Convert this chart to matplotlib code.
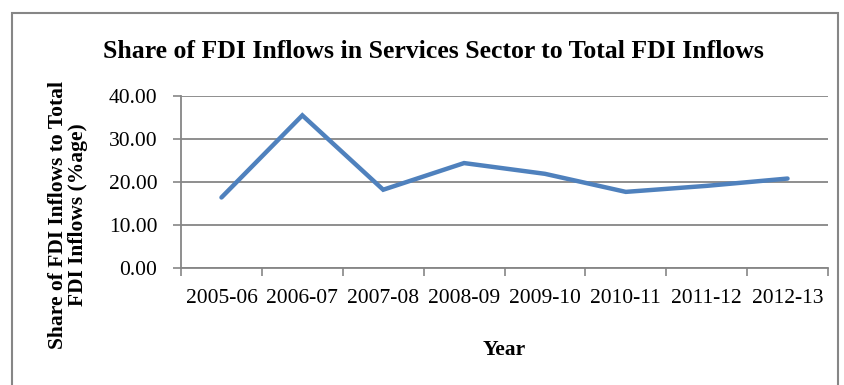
import matplotlib.pyplot as plt
from matplotlib.patches import Rectangle
from matplotlib.ticker import FixedLocator

years = ["2005-06", "2006-07", "2007-08", "2008-09", "2009-10", "2010-11", "2011-12", "2012-13"]
share = [16.4, 35.5, 18.2, 24.4, 21.9, 17.7, 19.1, 20.8]

plt.rcParams["font.family"] = ["Liberation Serif", "DejaVu Serif"]
grey = "#868686"
fs = 15.5

fig = plt.figure(figsize=(8.44, 3.85), dpi=100)
ax = fig.add_axes([0.2145, 0.304, 0.7665, 0.4466])

x = list(range(len(years)))
ax.plot(x, share, color="#4F81BD", lw=3.2, solid_capstyle="round", solid_joinstyle="miter")

ax.set_xlim(-0.5, len(years) - 0.5)
ax.set_ylim(0, 40)
ax.set_yticks([0, 10, 20, 30, 40])
ax.set_yticklabels([f"{v:.2f}" for v in [0, 10, 20, 30, 40]], fontsize=fs)
ax.xaxis.set_major_locator(FixedLocator([i - 0.5 for i in range(len(years) + 1)]))
ax.xaxis.set_minor_locator(FixedLocator(x))
ax.set_xticklabels([])
ax.set_xticklabels(years, minor=True, fontsize=fs)
ax.tick_params(axis="x", which="major", length=6, color=grey, width=1.2)
ax.tick_params(axis="x", which="minor", length=0, pad=15)
ax.tick_params(axis="y", length=6, color=grey, width=1.2, pad=11)

ax.grid(axis="y", color=grey, lw=1.3)
ax.set_axisbelow(True)
for s in ["top", "right"]:
    ax.spines[s].set_visible(False)
for s in ["left", "bottom"]:
    ax.spines[s].set_color(grey)
    ax.spines[s].set_linewidth(1.3)

ax.set_xlabel("Year", fontsize=fs, fontweight="bold", labelpad=23)
ax.set_ylabel("Share of FDI Inflows to Total\nFDI Inflows (%age)", fontsize=fs,
              fontweight="bold", linespacing=1.0)
ax.yaxis.set_label_coords(-0.144, 0.308)

fig.text(0.514, 0.866, "Share of FDI Inflows in Services Sector to Total FDI Inflows",
         ha="center", va="center", fontsize=18.5, fontweight="bold")

fig.patches.append(Rectangle((12 / 844, -0.05), 826 / 844, 1 - 13 / 385 + 0.05,
                             transform=fig.transFigure, fill=False,
                             edgecolor=grey, lw=1.5))

fig.savefig("out.png", dpi=100)
